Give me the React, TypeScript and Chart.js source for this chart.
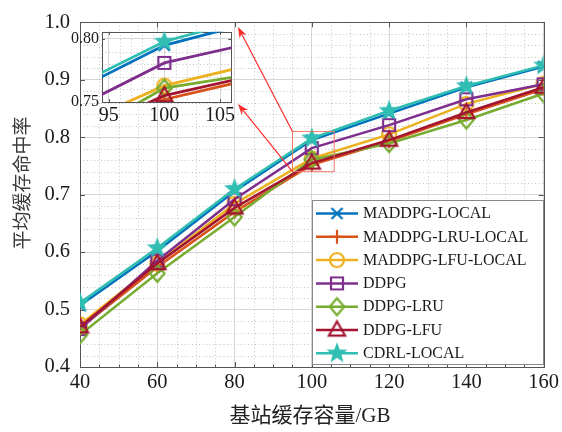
import React, { useEffect, useRef } from 'react';
import { Chart, registerables } from 'chart.js';

Chart.register(...registerables);

// Base-station cache capacity (GB)
const capacities = [40, 60, 80, 100, 120, 140, 160];

const seriesNames = [
  'MADDPG-LOCAL',
  'MADDPG-LRU-LOCAL',
  'MADDPG-LFU-LOCAL',
  'DDPG',
  'DDPG-LRU',
  'DDPG-LFU',
  'CDRL-LOCAL',
];

// Average cache hit rate per algorithm
const maddpgLocal = [0.507, 0.602, 0.706, 0.795, 0.841, 0.887, 0.923];
const maddpgLruLocal = [0.468, 0.574, 0.670, 0.752, 0.793, 0.840, 0.884];
const maddpgLfuLocal = [0.474, 0.580, 0.684, 0.763, 0.805, 0.858, 0.893];
const ddpg = [0.466, 0.585, 0.692, 0.781, 0.821, 0.866, 0.892];
const ddpgLru = [0.456, 0.563, 0.661, 0.761, 0.789, 0.830, 0.876];
const ddpgLfu = [0.470, 0.580, 0.677, 0.755, 0.795, 0.843, 0.887];
const cdrlLocal = [0.512, 0.607, 0.710, 0.798, 0.846, 0.889, 0.925];

const seriesValues = [maddpgLocal, maddpgLruLocal, maddpgLfuLocal, ddpg, ddpgLru, ddpgLfu, cdrlLocal];

const seriesColors = ['#0072BD', '#D95319', '#EDB120', '#7E2F8E', '#77AC30', '#A2142F', '#30BEB2'];
const markerKinds = ['x', '+', 'o', 's', 'd', '^', 'star'];
const markerRadius: Record<string, number> = { x: 5.5, '+': 7, o: 7, s: 6, d: 8.5, '^': 8.5, star: 11 };

const xTickValues = [40, 60, 80, 100, 120, 140, 160];
const yTickValues = [0.4, 0.5, 0.6, 0.7, 0.8, 0.9, 1.0];
const insetXTicks = [95, 100, 105];
const insetYTicks = [0.75, 0.8];

const xTitle = '基站缓存容量/GB';
const yTitle = '平均缓存命中率';

const SERIF = '"Liberation Serif", serif';
const CJK = '"Liberation Serif", "Noto Sans CJK SC", serif';

function drawMarker(ctx: CanvasRenderingContext2D, kind: string, color: string, cx: number, cy: number, r: number, lw: number) {
  ctx.save();
  ctx.strokeStyle = color;
  ctx.fillStyle = color;
  ctx.lineWidth = lw;
  ctx.lineJoin = 'miter';
  ctx.beginPath();
  if (kind === 'x') {
    ctx.moveTo(cx - r, cy - r);
    ctx.lineTo(cx + r, cy + r);
    ctx.moveTo(cx + r, cy - r);
    ctx.lineTo(cx - r, cy + r);
    ctx.stroke();
  } else if (kind === '+') {
    ctx.moveTo(cx - r, cy);
    ctx.lineTo(cx + r, cy);
    ctx.moveTo(cx, cy - r);
    ctx.lineTo(cx, cy + r);
    ctx.stroke();
  } else if (kind === 'o') {
    ctx.arc(cx, cy, r, 0, Math.PI * 2);
    ctx.stroke();
  } else if (kind === 's') {
    ctx.rect(cx - r, cy - r, 2 * r, 2 * r);
    ctx.stroke();
  } else if (kind === 'd') {
    ctx.moveTo(cx, cy - r);
    ctx.lineTo(cx + r * 0.85, cy);
    ctx.lineTo(cx, cy + r);
    ctx.lineTo(cx - r * 0.85, cy);
    ctx.closePath();
    ctx.stroke();
  } else if (kind === '^') {
    ctx.moveTo(cx, cy - r);
    ctx.lineTo(cx + r * 0.95, cy + r * 0.65);
    ctx.lineTo(cx - r * 0.95, cy + r * 0.65);
    ctx.closePath();
    ctx.stroke();
  } else if (kind === 'star') {
    for (let i = 0; i < 10; i++) {
      const a = -Math.PI / 2 + (i * Math.PI) / 5;
      const rr = i % 2 === 0 ? r : r * 0.42;
      const px = cx + rr * Math.cos(a);
      const py = cy + rr * Math.sin(a);
      if (i === 0) ctx.moveTo(px, py);
      else ctx.lineTo(px, py);
    }
    ctx.closePath();
    ctx.fill();
  }
  ctx.restore();
}

function makeMarker(kind: string, color: string): HTMLCanvasElement {
  const r = markerRadius[kind];
  const size = Math.ceil(2 * r + 6);
  const c = document.createElement('canvas');
  c.width = size;
  c.height = size;
  const ctx = c.getContext('2d')!;
  drawMarker(ctx, kind, color, size / 2, size / 2, r, 2.2);
  return c;
}

function buildDatasets(markers: HTMLCanvasElement[], lineWidth: number) {
  return seriesNames.map((name, i) => ({
    label: name,
    data: capacities.map((c, j) => ({ x: c, y: seriesValues[i][j] })),
    borderColor: seriesColors[i],
    backgroundColor: seriesColors[i],
    borderWidth: lineWidth,
    pointStyle: markers[i],
    pointRadius: markerRadius[markerKinds[i]],
    pointHoverRadius: markerRadius[markerKinds[i]],
    tension: 0,
    order: seriesNames.length - 1 - i,
  }));
}

function drawMinorGrid(chart: any, xStep: number, yStep: number, xMajor: number[], yMajor: number[]) {
  const { ctx, chartArea: a, scales } = chart;
  const xs = scales.x;
  const ys = scales.y;
  ctx.save();
  ctx.strokeStyle = '#c4c4c4';
  ctx.lineWidth = 1;
  ctx.setLineDash([1, 2.5]);
  const isMajor = (v: number, arr: number[]) => arr.some((m) => Math.abs(m - v) < 1e-6);
  for (let v = Math.ceil(xs.min / xStep) * xStep; v <= xs.max + 1e-9; v += xStep) {
    if (isMajor(v, xMajor)) continue;
    const px = Math.round(xs.getPixelForValue(v)) + 0.5;
    ctx.beginPath();
    ctx.moveTo(px, a.top);
    ctx.lineTo(px, a.bottom);
    ctx.stroke();
  }
  for (let v = Math.ceil(ys.min / yStep - 1e-6) * yStep; v <= ys.max + 1e-9; v += yStep) {
    if (isMajor(v, yMajor)) continue;
    const py = Math.round(ys.getPixelForValue(v)) + 0.5;
    ctx.beginPath();
    ctx.moveTo(a.left, py);
    ctx.lineTo(a.right, py);
    ctx.stroke();
  }
  ctx.restore();
}

function drawFrame(chart: any, xMajor: number[], yMajor: number[], xMinorStep: number, tickLen: number) {
  const { ctx, chartArea: a, scales } = chart;
  ctx.save();
  ctx.strokeStyle = '#555';
  ctx.lineWidth = 1;
  ctx.strokeRect(Math.round(a.left) + 0.5, Math.round(a.top) + 0.5, Math.round(a.right - a.left), Math.round(a.bottom - a.top));
  ctx.beginPath();
  for (const v of xMajor) {
    const px = Math.round(scales.x.getPixelForValue(v)) + 0.5;
    ctx.moveTo(px, a.bottom);
    ctx.lineTo(px, a.bottom - tickLen);
    ctx.moveTo(px, a.top);
    ctx.lineTo(px, a.top + tickLen);
  }
  for (const v of yMajor) {
    const py = Math.round(scales.y.getPixelForValue(v)) + 0.5;
    ctx.moveTo(a.left, py);
    ctx.lineTo(a.left + tickLen, py);
    ctx.moveTo(a.right, py);
    ctx.lineTo(a.right - tickLen, py);
  }
  if (xMinorStep > 0) {
    for (let v = scales.x.min; v <= scales.x.max; v += xMinorStep) {
      const px = Math.round(scales.x.getPixelForValue(v)) + 0.5;
      ctx.moveTo(px, a.bottom);
      ctx.lineTo(px, a.bottom - tickLen * 0.5);
    }
  }
  ctx.stroke();
  ctx.restore();
}

function drawArrow(ctx: CanvasRenderingContext2D, x0: number, y0: number, x1: number, y1: number) {
  const ang = Math.atan2(y1 - y0, x1 - x0);
  const hl = 11;
  const hw = 4;
  ctx.beginPath();
  ctx.moveTo(x0, y0);
  ctx.lineTo(x1 - hl * 0.7 * Math.cos(ang), y1 - hl * 0.7 * Math.sin(ang));
  ctx.stroke();
  ctx.beginPath();
  ctx.moveTo(x1, y1);
  ctx.lineTo(x1 - hl * Math.cos(ang) + hw * Math.sin(ang), y1 - hl * Math.sin(ang) - hw * Math.cos(ang));
  ctx.lineTo(x1 - hl * 0.7 * Math.cos(ang), y1 - hl * 0.7 * Math.sin(ang));
  ctx.lineTo(x1 - hl * Math.cos(ang) - hw * Math.sin(ang), y1 - hl * Math.sin(ang) + hw * Math.cos(ang));
  ctx.closePath();
  ctx.fill();
}

export default function App() {
  const mainRef = useRef<HTMLCanvasElement>(null);
  const insetRef = useRef<HTMLCanvasElement>(null);

  useEffect(() => {
    const markers = seriesNames.map((_, i) => makeMarker(markerKinds[i], seriesColors[i]));

    const mainDecor = {
      id: 'mainDecor',
      beforeDatasetsDraw(chart: any) {
        drawMinorGrid(chart, 5, 0.02, xTickValues, yTickValues);
        drawFrame(chart, xTickValues, yTickValues, 5, 5);
      },
      afterDatasetsDraw(chart: any) {
        const { ctx, scales } = chart;
        const xs = scales.x;
        const ys = scales.y;
        // zoom window around 100 GB
        const rx0 = xs.getPixelForValue(95);
        const rx1 = xs.getPixelForValue(105.8);
        const ry0 = ys.getPixelForValue(0.81);
        const ry1 = ys.getPixelForValue(0.74);
        ctx.save();
        ctx.strokeStyle = '#f07a6a';
        ctx.lineWidth = 1;
        ctx.strokeRect(rx0, ry0, rx1 - rx0, ry1 - ry0);
        ctx.strokeStyle = '#ff2a2a';
        ctx.fillStyle = '#ff2a2a';
        ctx.lineWidth = 1.2;
        drawArrow(ctx, rx0, ry0, 238, 27);
        drawArrow(ctx, rx0, ry1, 238, 104);
        ctx.restore();

        // legend
        ctx.save();
        ctx.fillStyle = '#fff';
        ctx.fillRect(312, 200, 231, 164);
        ctx.strokeStyle = '#888';
        ctx.lineWidth = 1;
        ctx.strokeRect(312.5, 200.5, 231, 164);
        ctx.font = `16px ${SERIF}`;
        ctx.textBaseline = 'middle';
        ctx.textAlign = 'left';
        seriesNames.forEach((name, i) => {
          const y = 213.5 + i * 23.3;
          ctx.strokeStyle = seriesColors[i];
          ctx.lineWidth = 2.5;
          ctx.beginPath();
          ctx.moveTo(316, y);
          ctx.lineTo(358, y);
          ctx.stroke();
          const m = markers[i];
          ctx.drawImage(m, 337 - m.width / 2, y - m.height / 2);
          ctx.fillStyle = '#1a1a1a';
          ctx.fillText(name, 363, y + 0.5);
        });
        ctx.restore();

        // axis titles
        ctx.save();
        ctx.fillStyle = '#222';
        ctx.font = `21px ${CJK}`;
        ctx.textAlign = 'center';
        ctx.textBaseline = 'middle';
        ctx.fillText(xTitle, 310, 416);
        ctx.translate(22, 183);
        ctx.rotate(-Math.PI / 2);
        ctx.font = `19px "Noto Sans CJK SC", sans-serif`;
        ctx.fillStyle = '#3a3a3a';
        ctx.fillText(yTitle, 0, 0);
        ctx.restore();
      },
    };

    const main = new Chart(mainRef.current!, {
      type: 'line',
      data: { datasets: buildDatasets(markers, 2.5) as any },
      options: {
        animation: false,
        responsive: false,
        maintainAspectRatio: false,
        layout: { padding: { top: 14, right: 16, left: 0, bottom: 0 } },
        plugins: { legend: { display: false }, tooltip: { enabled: false } },
        scales: {
          x: {
            type: 'linear',
            min: 40,
            max: 160,
            afterBuildTicks: (s: any) => {
              s.ticks = xTickValues.map((v) => ({ value: v }));
            },
            afterFit: (s: any) => {
              s.height = 65;
            },
            ticks: { font: { family: SERIF, size: 20.5 }, color: '#1a1a1a', padding: 3, maxRotation: 0, autoSkip: false },
            grid: { color: '#d6d6d6', drawTicks: false },
            border: { display: false },
          },
          y: {
            type: 'linear',
            min: 0.4,
            max: 1.0,
            afterBuildTicks: (s: any) => {
              s.ticks = yTickValues.map((v) => ({ value: v }));
            },
            afterFit: (s: any) => {
              s.width = 80;
            },
            ticks: {
              font: { family: SERIF, size: 20.5 },
              color: '#1a1a1a',
              padding: 10,
              autoSkip: false,
              callback: (v: any) => Number(v).toFixed(1),
            },
            grid: { color: '#d6d6d6', drawTicks: false },
            border: { display: false },
          },
        },
      },
      plugins: [mainDecor],
    });

    const insetDecor = {
      id: 'insetDecor',
      beforeDraw(chart: any) {
        const { ctx, chartArea: a } = chart;
        ctx.save();
        ctx.fillStyle = '#fff';
        ctx.fillRect(a.left, a.top, a.right - a.left, a.bottom - a.top);
        ctx.restore();
      },
      beforeDatasetsDraw(chart: any) {
        drawMinorGrid(chart, 1, 0.01, insetXTicks, insetYTicks);
        drawFrame(chart, insetXTicks, insetYTicks, 0, 3);
      },
    };

    const inset = new Chart(insetRef.current!, {
      type: 'line',
      data: { datasets: buildDatasets(markers, 2.8) as any },
      options: {
        animation: false,
        responsive: false,
        maintainAspectRatio: false,
        layout: { padding: { top: 7, right: 11, left: 0, bottom: 0 } },
        plugins: { legend: { display: false }, tooltip: { enabled: false } },
        scales: {
          x: {
            type: 'linear',
            min: 94.4,
            max: 106,
            afterBuildTicks: (s: any) => {
              s.ticks = insetXTicks.map((v) => ({ value: v }));
            },
            afterFit: (s: any) => {
              s.height = 41;
            },
            ticks: { font: { family: SERIF, size: 20 }, color: '#1a1a1a', padding: 2, maxRotation: 0, autoSkip: false },
            grid: { color: '#d6d6d6', drawTicks: false },
            border: { display: false },
          },
          y: {
            type: 'linear',
            min: 0.75,
            max: 0.8057,
            afterBuildTicks: (s: any) => {
              s.ticks = insetYTicks.map((v) => ({ value: v }));
            },
            afterFit: (s: any) => {
              s.width = 47;
            },
            ticks: {
              font: { family: SERIF, size: 16 },
              color: '#1a1a1a',
              padding: 3,
              autoSkip: false,
              callback: (v: any) => Number(v).toFixed(2),
            },
            grid: { color: '#d6d6d6', drawTicks: false },
            border: { display: false },
          },
        },
      },
      plugins: [insetDecor],
    });

    // redraw once the installed fonts are ready so canvas text uses them
    let alive = true;
    const fonts = (document as any).fonts;
    if (fonts && fonts.load) {
      Promise.all([
        fonts.load('19px "Liberation Serif"'),
        fonts.load('19px "Noto Sans CJK SC"', '平均缓存命中率基站容量'),
      ])
        .catch(() => null)
        .then(() => {
          if (!alive) return;
          main.update();
          inset.update();
        });
    }

    return () => {
      alive = false;
      main.destroy();
      inset.destroy();
    };
  }, []);

  return (
    <div style={{ position: 'fixed', left: 0, top: 0, width: 562, height: 432, background: '#fff' }}>
      <canvas ref={mainRef} width={562} height={432} style={{ position: 'absolute', left: 0, top: 0 }} />
      <canvas ref={insetRef} width={190} height={125} style={{ position: 'absolute', left: 55, top: 18 }} />
    </div>
  );
}
